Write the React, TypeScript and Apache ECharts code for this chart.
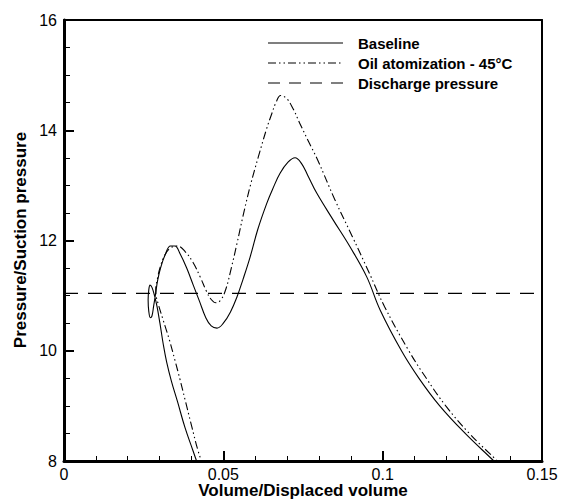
import React, { useEffect, useRef } from "react";
import * as echarts from "echarts";

const FONT = '"Liberation Sans", Arial, Helvetica, sans-serif';

const seriesNames = ["Baseline", "Oil atomization - 45°C", "Discharge pressure"];
const xAxisTitle = "Volume/Displaced volume";
const yAxisTitle = "Pressure/Suction pressure";

// [volume ratio, pressure ratio] in path order
const baseline: [number, number][] = [
  [0.1375, 7.85], [0.1349, 8.0], [0.1259, 8.5], [0.1179, 9.0], [0.1114, 9.5], [0.1059, 10.0],
  [0.0992, 10.74], [0.095, 11.34], [0.0897, 11.89], [0.0845, 12.37],
  [0.0793, 12.86], [0.0765, 13.18], [0.0745, 13.4], [0.0725, 13.5], [0.0703, 13.42],
  [0.0678, 13.22], [0.0656, 12.95], [0.0636, 12.67], [0.0608, 12.2], [0.0584, 11.7],
  [0.0562, 11.3], [0.0543, 10.98], [0.0522, 10.7], [0.05, 10.5], [0.048, 10.41],
  [0.0462, 10.45], [0.0445, 10.6], [0.0425, 10.9], [0.0405, 11.2],
  [0.0385, 11.5], [0.0365, 11.75], [0.0348, 11.9], [0.0334, 11.9],
  [0.0318, 11.75], [0.0304, 11.52], [0.0294, 11.28], [0.0287, 11.02], [0.0281, 10.8],
  [0.0276, 10.63], [0.0271, 10.6], [0.0266, 10.72], [0.0264, 10.92], [0.0266, 11.1],
  [0.027, 11.19], [0.0276, 11.15], [0.0284, 11.0], [0.0292, 10.8], [0.0301, 10.5],
  [0.0312, 10.1], [0.0322, 9.8], [0.0337, 9.45], [0.0356, 9.08], [0.038, 8.6],
  [0.0404, 8.2], [0.0422, 7.9], [0.044, 7.6],
];

const oilAtomization: [number, number][] = [
  [0.1385, 7.86], [0.136, 8.0], [0.1272, 8.5], [0.1198, 9.0], [0.1137, 9.5], [0.1082, 10.0],
  [0.1006, 10.8], [0.0958, 11.41], [0.0905, 12.07], [0.085, 12.74],
  [0.0796, 13.46], [0.0767, 13.8], [0.0742, 14.1], [0.0718, 14.4], [0.0698, 14.58],
  [0.068, 14.63], [0.0665, 14.5], [0.0652, 14.3], [0.0636, 14.03], [0.061, 13.52],
  [0.0584, 12.98], [0.0562, 12.45], [0.0543, 11.95], [0.0525, 11.5], [0.0508, 11.12],
  [0.0492, 10.92], [0.0477, 10.87], [0.0462, 10.93], [0.0447, 11.08], [0.0428, 11.33],
  [0.0405, 11.6], [0.038, 11.8], [0.0355, 11.9], [0.0333, 11.86], [0.0315, 11.72],
  [0.0302, 11.52], [0.0293, 11.3], [0.0288, 11.12], [0.0289, 11.0], [0.0294, 10.88],
  [0.0311, 10.56], [0.0331, 10.19], [0.0348, 9.83], [0.0364, 9.48], [0.038, 9.11],
  [0.0402, 8.6], [0.042, 8.2], [0.0437, 7.9], [0.0455, 7.6],
];

const dischargePressure: [number, number][] = [
  [0, 11.04], [0.15, 11.04],
];

const X_MIN = 0, X_MAX = 0.15, X_STEP = 0.05;
const Y_MIN = 8, Y_MAX = 16, Y_STEP = 2;

const DASH_OIL = [8, 3, 1.5, 3, 1.5, 3];
const DASH_DISCHARGE = [14, 10];

export default function App() {
  const ref = useRef<HTMLDivElement>(null);
  useEffect(() => {
    if (!ref.current) return;
    const chart = echarts.init(ref.current, undefined, { renderer: "svg" });
    const lineBase = { type: "line", symbol: "none", showSymbol: false, clip: true, smooth: 0.4 };

    const legendRows = [
      { name: seriesNames[0], dash: null as number[] | null, y: 43 },
      { name: seriesNames[1], dash: DASH_OIL, y: 63 },
      { name: seriesNames[2], dash: [12, 9], y: 83 },
    ];
    const legendGraphics: any[] = [];
    legendRows.forEach((r) => {
      legendGraphics.push({
        type: "line",
        silent: true,
        shape: { x1: 268, y1: r.y, x2: 343, y2: r.y },
        style: r.dash
          ? { stroke: "#000", lineWidth: 1.1, lineDash: r.dash }
          : { stroke: "#000", lineWidth: 1.1 },
      });
      legendGraphics.push({
        type: "text",
        silent: true,
        x: 358,
        y: r.y,
        style: {
          text: r.name, fill: "#000", font: `bold 15px ${FONT}`,
          align: "left", verticalAlign: "middle",
        },
      });
    });

    chart.setOption({
      animation: false,
      grid: { left: 64, right: 20, top: 20, bottom: 38, outerBoundsMode: "none" },
      graphic: [
        ...legendGraphics,
        {
          type: "text",
          silent: true,
          x: 303,
          y: 490,
          style: {
            text: xAxisTitle, fill: "#000", font: `bold 17px ${FONT}`,
            align: "center", verticalAlign: "middle",
          },
        },
        {
          type: "text",
          silent: true,
          x: 20,
          y: 240,
          rotation: Math.PI / 2,
          style: {
            text: yAxisTitle, fill: "#000", font: `bold 17px ${FONT}`,
            align: "center", verticalAlign: "middle",
          },
        },
      ],
      xAxis: [
        {
          type: "value",
          min: X_MIN, max: X_MAX, interval: X_STEP,
          axisLine: { show: true, onZero: false, lineStyle: { color: "#000", width: 3 } },
          axisTick: { show: true, inside: true, length: 10, lineStyle: { color: "#000", width: 2 } },
          minorTick: { show: true, splitNumber: 5, length: 5, lineStyle: { color: "#000", width: 1 } },
          axisLabel: {
            fontFamily: FONT, fontSize: 16, color: "#000", margin: 5,
            formatter: (v: number) => (v === 0 ? "0" : String(Math.round(v * 100) / 100)),
          },
          splitLine: { show: false },
          minorSplitLine: { show: false },
        },
        {
          type: "value",
          position: "top",
          min: X_MIN, max: X_MAX, interval: X_STEP,
          axisLine: { show: true, onZero: false, lineStyle: { color: "#000", width: 2 } },
          axisTick: { show: false },
          axisLabel: { show: false },
          splitLine: { show: false },
        },
      ],
      yAxis: [
        {
          type: "value",
          min: Y_MIN, max: Y_MAX, interval: Y_STEP,
          axisLine: { show: true, onZero: false, lineStyle: { color: "#000", width: 3 } },
          axisTick: { show: true, inside: true, length: 10, lineStyle: { color: "#000", width: 2 } },
          minorTick: { show: true, splitNumber: 4, length: 6, lineStyle: { color: "#000", width: 1 } },
          axisLabel: { fontFamily: FONT, fontSize: 16, color: "#000", margin: 7 },
          splitLine: { show: false },
          minorSplitLine: { show: false },
        },
        {
          type: "value",
          position: "right",
          min: Y_MIN, max: Y_MAX, interval: Y_STEP,
          axisLine: { show: true, onZero: false, lineStyle: { color: "#000", width: 2 } },
          axisTick: { show: false },
          axisLabel: { show: false },
          splitLine: { show: false },
        },
      ],
      series: [
        {
          ...lineBase, name: seriesNames[0], data: baseline,
          lineStyle: { color: "#000", width: 1.1, type: "solid" },
          itemStyle: { color: "#000" },
        },
        {
          ...lineBase, name: seriesNames[1], data: oilAtomization,
          lineStyle: { color: "#000", width: 1.1, type: DASH_OIL },
          itemStyle: { color: "#000" },
        },
        {
          ...lineBase, smooth: false, name: seriesNames[2], data: dischargePressure,
          lineStyle: { color: "#000", width: 1.1, type: DASH_DISCHARGE },
          itemStyle: { color: "#000" },
        },
      ],
    });
    return () => chart.dispose();
  }, []);
  return (
    <div
      ref={ref}
      style={{ position: "absolute", left: 0, top: 0, width: 562, height: 499 }}
    />
  );
}
